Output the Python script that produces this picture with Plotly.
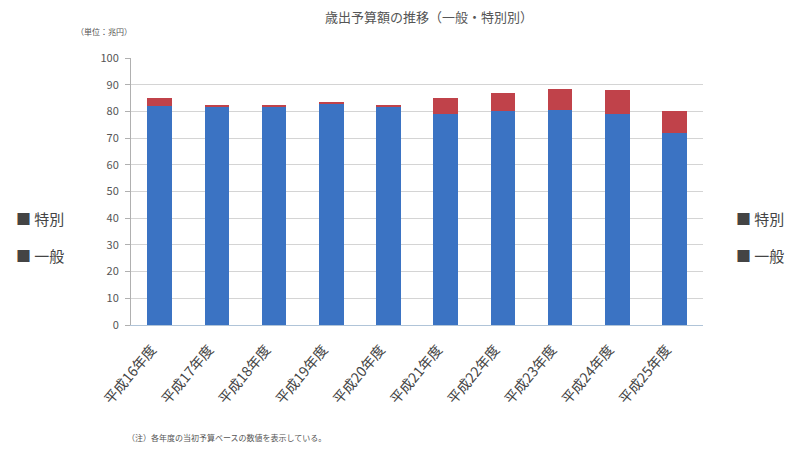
import plotly.graph_objects as go

# Fiscal years (Heisei era)
years = ["平成16年度", "平成17年度", "平成18年度", "平成19年度", "平成20年度",
         "平成21年度", "平成22年度", "平成23年度", "平成24年度", "平成25年度"]

# Stacked amounts per year
general = [82, 82, 82, 83, 82, 79, 80, 80.5, 79, 72]   # 一般
special = [3, 0.5, 0.5, 0.3, 0.5, 6, 7, 8, 9, 8]        # 特別

y_ticks = list(range(0, 101, 10))

BLUE = "#3b73c3"
RED = "#c0424a"
FONT = "Noto Sans CJK JP"

fig = go.Figure()
fig.add_trace(go.Bar(x=years, y=general, name="一般", marker_color=BLUE,
                     marker_line_width=0))
fig.add_trace(go.Bar(x=years, y=special, name="特別", marker_color=RED,
                     marker_line_width=0))

fig.update_layout(
    width=787, height=452,
    margin=dict(l=131, r=84, t=58, b=127),
    barmode="stack",
    bargap=0.57,
    showlegend=False,
    plot_bgcolor="white",
    paper_bgcolor="white",
    font=dict(family=FONT, size=10, color="#444"),
    title=dict(text="歳出予算額の推移（一般・特別別）", x=0.545, xanchor="center",
               y=0.962, yanchor="middle",
               font=dict(family=FONT, size=13, color="#555")),
)

fig.update_yaxes(
    range=[0, 100], tickvals=y_ticks, ticktext=[str(v) for v in y_ticks],
    showgrid=True, gridcolor="#d4d4d4", gridwidth=1,
    showline=True, linecolor="#b0b0b0", linewidth=1,
    ticks="outside", ticklen=5, tickcolor="#b0b0b0",
    tickfont=dict(family=FONT, size=11, color="#555"),
    ticklabelstandoff=4,
    zeroline=False,
)
fig.update_xaxes(
    tickangle=-50, showline=True, linecolor="#b0c4d8", linewidth=1,
    tickfont=dict(family=FONT, size=14, color="#444"),
    ticklabelstandoff=10, ticklabelshift=-8,
)

fig.add_annotation(text="（単位：兆円）", xref="paper", yref="paper",
                   x=-0.1, y=1.1, xanchor="left", yanchor="middle",
                   showarrow=False, font=dict(family=FONT, size=8, color="#555"))

# Legend labels on both sides of the chart
for xpos in [-0.205, 1.055]:
    fig.add_annotation(text="■ 特別", xref="paper", yref="paper",
                       x=xpos, y=(325 - 218) / 267, xanchor="left", yanchor="middle",
                       showarrow=False, font=dict(family=FONT, size=15, color="#444"))
    fig.add_annotation(text="■ 一般", xref="paper", yref="paper",
                       x=xpos, y=(325 - 255) / 267, xanchor="left", yanchor="middle",
                       showarrow=False, font=dict(family=FONT, size=15, color="#444"))

fig.add_annotation(text="（注）各年度の当初予算ベースの数値を表示している。",
                   xref="paper", yref="paper", x=-0.01, y=-0.42,
                   xanchor="left", yanchor="middle", showarrow=False,
                   font=dict(family=FONT, size=8, color="#555"))

fig.write_html("out.html")
